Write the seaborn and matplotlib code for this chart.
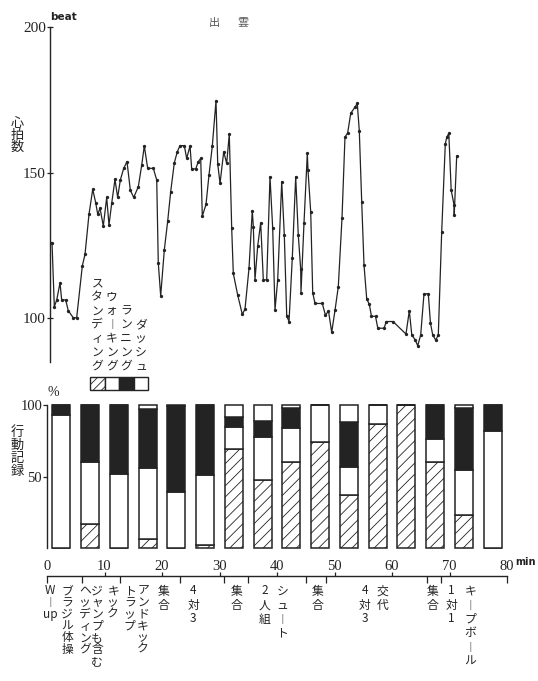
import re
import numpy as np
import pandas as pd
import matplotlib
matplotlib.use("Agg")
import matplotlib.pyplot as plt
import matplotlib.transforms as mtransforms
from matplotlib.patches import Rectangle
import seaborn as sns

# Heart rate during the session (minutes from start, beats per minute)
hr_minutes = [0.0, 0.35, 0.75, 1.17, 1.74, 2.03, 2.73, 3.18, 4.05, 4.64,
              5.62, 6.09, 6.78, 7.43, 7.95, 8.30, 8.70, 9.27, 9.86, 10.26,
              10.73, 11.30, 11.77, 12.23, 12.82, 13.39, 13.97, 14.56, 15.36, 15.95,
              16.40, 16.99, 17.97, 18.56, 18.83, 19.25, 19.88, 20.47, 20.99, 21.62,
              22.14, 22.61, 23.36, 23.77, 24.35, 24.64, 25.34, 25.79, 26.21, 26.49,
              27.13, 27.65, 28.23, 28.87, 29.17, 29.57, 30.21, 30.73, 31.18, 31.60,
              31.88, 32.64, 33.44, 33.91, 34.61, 35.18, 35.36, 35.65, 36.12, 36.64,
              37.10, 37.69, 38.26, 38.73, 39.13, 39.60, 40.30, 40.75, 41.17, 41.57,
              42.14, 42.73, 43.18, 43.60, 43.65, 44.17, 44.75, 44.87, 45.34, 45.69,
              46.09, 47.36, 47.91, 48.43, 48.99, 49.57, 50.14, 50.78, 51.30, 51.77,
              52.30, 53.04, 53.44, 53.79, 54.21, 54.61, 55.08, 55.53, 55.91, 56.61,
              57.01, 58.09, 58.49, 59.65, 61.91, 62.49, 62.92, 63.48, 63.95, 64.47,
              65.04, 65.79, 66.17, 66.56, 67.08, 67.53, 68.12, 68.75, 69.01, 69.36,
              69.77, 70.26, 70.30, 70.73]
hr_beats = [126, 126, 104, 106.3, 112.2, 106.3, 106.3, 102.6, 100.2, 100.2,
            118, 122, 135.7, 144.3, 139.7, 135.7, 137.8, 131.7, 141.5, 132,
            139.5, 147.7, 141.5, 147.5, 151.5, 153.8, 144, 141.5, 145.2, 152.6,
            159.2, 151.5, 151.5, 147.5, 119.1, 107.7, 123.5, 133.4, 143.5, 153.4,
            157.2, 159.3, 159.3, 154.9, 159.2, 151.3, 151.3, 153.8, 154.9, 135.1,
            139.1, 149.2, 159.2, 174.7, 153, 146.3, 157.2, 153.2, 163.3, 130.9,
            115.4, 108, 101.4, 103.1, 117.2, 137, 131.5, 113.2, 124.8, 132.8,
            113.2, 113.2, 148.6, 130.9, 102.9, 113.2, 146.9, 128.6, 100.8, 98.9,
            120.8, 148.6, 128.6, 116.8, 108.8, 132.6, 156.6, 150.9, 136.6, 108.8,
            105.1, 105.1, 101, 102.6, 95.2, 102.8, 110.9, 134.3, 162.2, 163.7,
            170.4, 172.5, 173.8, 164.4, 140, 118.3, 106.7, 104.8, 100.7, 100.7,
            96.6, 96.6, 98.9, 98.9, 94.6, 102.6, 94.3, 92.7, 90.6, 94.3,
            108.4, 108.4, 98.3, 94.3, 92.5, 94.3, 129.7, 160, 162.2, 163.5,
            144, 139, 135.5, 155.7]

# Activity record per 5-minute block (% of time in each behaviour)
block_minutes = [2.5, 7.5, 12.5, 17.5, 22.5, 27.5, 32.5, 37.5,
                 42.5, 47.5, 52.5, 57.5, 62.5, 67.5, 72.5, 77.5]
standing = [0, 17, 0, 6.5, 0, 2, 69, 48, 60, 74, 37, 87, 100, 60, 23, 0]
walking = [93, 43, 52, 49.5, 39, 49, 16, 30, 24, 26, 20, 13, 0, 16, 32, 82]
running = [7, 40, 48, 41, 60, 49, 7, 11, 14, 0, 31, 0, 0, 24, 43, 18]
dashing = [0, 0, 0, 3, 1, 0, 8, 11, 2, 0, 12, 0, 0, 0, 2, 0]

behaviour_names = ["スタンディング", "ウォーキング", "ランニング", "ダッシュ"]

# Session programme written under the time axis
activity_labels = ["Wーup", "ブラジル体操", "ヘッディング", "ジャンプも含む", "キック",
                   "トラップ", "アンドキック", "集合", "4対3", "集合", "2人組",
                   "シュート", "集合", "4対3", "交代", "集合", "1対1", "キープボール"]
activity_at = [0.5, 3.5, 6.6, 8.7, 11.5, 14.4, 16.7, 20.2, 25.4, 33.0, 37.9,
               40.9, 47.0, 55.3, 58.4, 67.1, 70.3, 73.6]
segment_marks = [0, 6, 12.7, 23.1, 30.7, 35, 45, 48.6, 66, 68.6, 80]
minute_ticks = [0, 10, 20, 30, 40, 50, 60, 70, 80]

sns.set_theme(style="white")
plt.rcParams["font.family"] = ["Noto Sans CJK JP", "DejaVu Sans"]
plt.rcParams["hatch.linewidth"] = 0.6

W, H = 538, 681
fig = plt.figure(figsize=(W / 100, H / 100), dpi=100)
fig.patch.set_facecolor("white")
ink = "#232323"
serif = "Liberation Serif"


def fx(x):
    return x / W


def fy(y):
    return 1 - y / H


def tokens(s):
    return [("︱" if t == "ー" else t) for t in re.findall(r"[A-Za-z]{2,}|.", s)]


def vtext(x, y_first, s, pitch, size, transform=None, **kw):
    """Stack characters of s vertically, first character centred at y_first (px)."""
    for i, t in enumerate(tokens(s)):
        if transform is None:
            fig.text(fx(x), fy(y_first + i * pitch), t, ha="center", va="center",
                     fontsize=size, color=ink, **kw)
        else:
            fig.text(x, fy(y_first + i * pitch), t, ha="center", va="center",
                     fontsize=size, color=ink, transform=transform, **kw)


# ---------- heart rate ----------
ax1 = fig.add_axes([fx(50), fy(362), 460 / W, (362 - 27.1) / H])
hr = pd.DataFrame({"min": hr_minutes, "beat": hr_beats})
sns.lineplot(data=hr, x="min", y="beat", ax=ax1, color=ink, lw=0.9,
             marker="o", markersize=2.4, markeredgewidth=0,
             estimator=None, sort=False)
ax1.set_xlim(0, 80)
ax1.set_ylim(85, 200)
for s in ["top", "right", "bottom"]:
    ax1.spines[s].set_visible(False)
ax1.spines["left"].set_color(ink)
ax1.spines["left"].set_linewidth(1.0)
ax1.set_xticks([])
ax1.set_yticks([100, 150, 200])
ax1.set_yticklabels(["100", "150", "200"], fontfamily=serif)
ax1.tick_params(axis="y", direction="inout", length=5, width=0.9,
                colors=ink, labelsize=11, pad=0.5, left=True)
ax1.set_xlabel("")
ax1.set_ylabel("")
ax1.patch.set_alpha(0)

fig.text(fx(50), fy(17), "beat", ha="left", va="center", fontsize=7.5,
         fontweight="bold", color=ink, family="DejaVu Sans")
fig.text(fx(214), fy(23), "出", ha="center", va="center", fontsize=8, color="#555")
fig.text(fx(243), fy(23), "雲", ha="center", va="center", fontsize=8, color="#555")
vtext(17, 123, "心拍数", 12, 9.5)

# ---------- legend ----------
box_x = [90, 104.5, 119, 133.5]
box_w = 14.5
faces = ["white", "white", ink, "white"]
hatches = ["////", None, None, None]
for bx, fc, hc, name in zip(box_x, faces, hatches, behaviour_names):
    fig.patches.append(Rectangle((fx(bx), fy(390)), box_w / W, 13 / H,
                                 transform=fig.transFigure, facecolor=fc,
                                 edgecolor=ink, hatch=hc, lw=1.0))
    n = len(tokens(name))
    vtext(bx + box_w / 2, 366 - (n - 1) * 13.8, name, 13.8, 8.5)

# ---------- activity record ----------
ax2 = fig.add_axes([fx(47), fy(576), 460 / W, (576 - 402.9) / H])
bottom = np.zeros(len(block_minutes))
layers = [(standing, "white", "///"), (walking, "white", None),
          (running, ink, None), (dashing, "white", None)]
for vals, face, hatch in layers:
    vals = np.asarray(vals, dtype=float)
    sns.barplot(x=block_minutes, y=vals, native_scale=True, width=0.62,
                color=face, saturation=1, edgecolor=ink, linewidth=1.1,
                hatch=hatch, bottom=bottom.copy(), errorbar=None, ax=ax2)
    bottom += vals

ax2.set_xlim(0, 80)
ax2.set_ylim(-19.3, 101.5)
for s in ["top", "right"]:
    ax2.spines[s].set_visible(False)
ax2.spines["left"].set_bounds(0, 100)
ax2.spines["bottom"].set_bounds(0, 80)
for s in ["left", "bottom"]:
    ax2.spines[s].set_color(ink)
    ax2.spines[s].set_linewidth(1.0)
ax2.set_yticks([50, 100])
ax2.set_yticklabels(["50", "100"], fontfamily=serif)
ax2.tick_params(axis="y", direction="out", length=3, width=0.9, colors=ink,
                labelsize=10.5, pad=0.5, left=True)
ax2.set_xticks(segment_marks)
ax2.set_xticklabels([])
ax2.set_xticks(minute_ticks[1:-1], minor=True)
ax2.tick_params(axis="x", which="major", direction="out", length=5, width=0.9,
                colors=ink, bottom=True)
ax2.tick_params(axis="x", which="minor", direction="in", length=3, width=0.9,
                colors=ink, bottom=True)
ax2.set_xlabel("")
ax2.set_ylabel("")
ax2.patch.set_alpha(0)

for m in minute_ticks:
    ax2.text(m, -13, str(m), ha="center", va="center", fontsize=10.5,
             fontfamily=serif, color=ink)
fig.text(fx(525), fy(562), "min", ha="center", va="center", fontsize=7,
         fontweight="bold", color=ink, family="DejaVu Sans")
fig.text(fx(53), fy(392), "%", ha="center", va="center", fontsize=10,
         fontfamily=serif, color=ink)
vtext(17, 432, "行動記録", 13.3, 9.5)

# programme labels under the axis
blend = mtransforms.blended_transform_factory(ax2.transData, fig.transFigure)
for i, (lab, at) in enumerate(zip(activity_labels, activity_at)):
    pitch = 11.7 if i < 7 else 14
    vtext(at, 591, lab, pitch, 8.5, transform=blend)

fig.savefig("out.png", dpi=100, facecolor="white")
